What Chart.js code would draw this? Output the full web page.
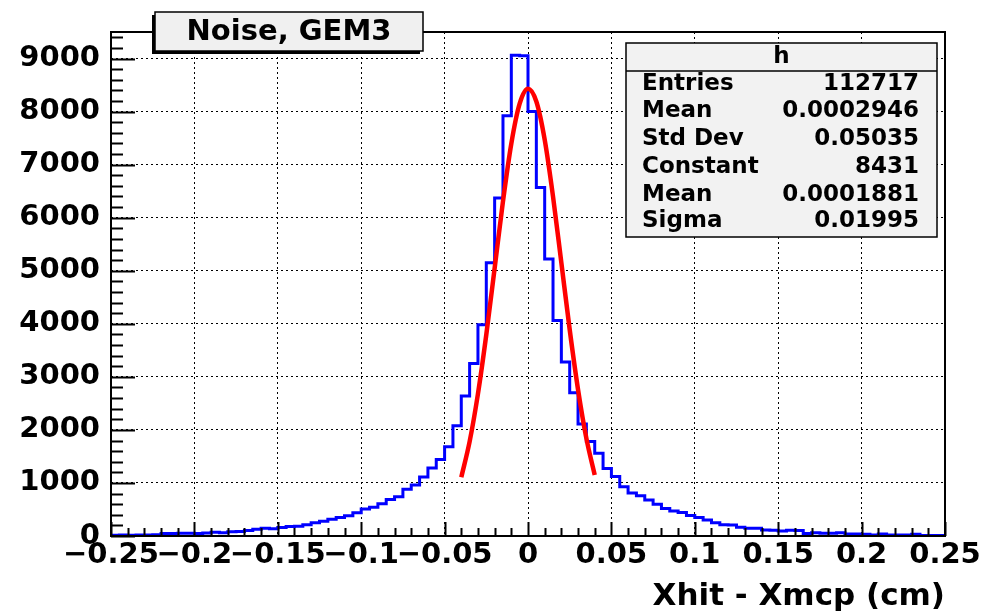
<!DOCTYPE html>
<html>
<head>
<meta charset="utf-8">
<script src="https://cdn.jsdelivr.net/npm/chart.js@4.4.1/dist/chart.umd.min.js"></script>
<style>
  html, body { margin: 0; padding: 0; background: #fff; }
  #wrap { width: 985px; height: 613px; }
</style>
</head>
<body>
<div id="wrap"><canvas id="histChart" width="985" height="613"></canvas></div>
<script>
// histogram "h": 100 bins between -0.25 and 0.25
const binLow = -0.25;
const binWidth = 0.005;
const counts = [
  15, 15, 20, 15, 20, 20, 25, 45, 45, 50,
  50, 45, 55, 70, 60, 80, 85, 105, 125, 145,
  135, 160, 180, 185, 210, 250, 280, 315, 350, 380,
  440, 510, 540, 610, 690, 740, 880, 960, 1110, 1280,
  1440, 1680, 2080, 2640, 3250, 3980, 5150, 6370, 7920, 9060,
  9050, 8000, 6570, 5220, 4060, 3280, 2700, 2110, 1780, 1560,
  1270, 1120, 930, 810, 760, 680, 600, 520, 470, 445,
  385, 350, 300, 250, 210, 205, 165, 145, 145, 115,
  110, 95, 110, 105, 45, 60, 50, 50, 60, 40,
  40, 35, 20, 40, 20, 20, 20, 35, 10, 10
];

// gaus fit curve as drawn (-0.04 .. 0.04)
const fitX = [-0.04, -0.035, -0.03, -0.025, -0.02, -0.015, -0.01, -0.005, 0,
              0.005, 0.01, 0.015, 0.02, 0.025, 0.03, 0.035, 0.04];
const fitY = [1107, 1778, 2681, 3795, 5049, 6308, 7398, 8150, 8431,
              8189, 7471, 6400, 5149, 3890, 2760, 1840, 1151];

const xTicks = [-0.25, -0.2, -0.15, -0.1, -0.05, 0, 0.05, 0.1, 0.15, 0.2, 0.25];
const yTicks = [0, 1000, 2000, 3000, 4000, 5000, 6000, 7000, 8000, 9000];

const titleText = 'Noise, GEM3';
const xTitle = 'Xhit - Xmcp (cm)';
const statsName = 'h';
const statsLabels = ['Entries', 'Mean', 'Std Dev', 'Constant', 'Mean', 'Sigma'];
const statsValues = ['112717', '0.0002946', '0.05035', '8431', '0.0001881', '0.01995'];

const FONT = "'DejaVu Sans', 'Liberation Sans', sans-serif";

const histPoints = counts.map((c, i) => ({ x: binLow + i * binWidth, y: c }));
histPoints.push({ x: binLow + counts.length * binWidth, y: counts[counts.length - 1] });
const fitPoints = fitX.map((x, i) => ({ x: x, y: fitY[i] }));

function fmtX(v) {
  const r = Math.round(v * 100) / 100;
  if (r < 0) return '\u2212' + String(-r);
  return String(r);
}

// ROOT-like frame, inner ticks, title pave and stats box
const rootDecor = {
  id: 'rootDecor',
  afterDraw(chart) {
    const ctx = chart.ctx;
    const a = chart.chartArea;
    const xs = chart.scales.x, ys = chart.scales.y;
    ctx.save();
    ctx.strokeStyle = '#000';
    ctx.lineWidth = 2;
    ctx.strokeRect(a.left, a.top, a.right - a.left, a.bottom - a.top);

    // y ticks (inside, pointing right)
    ctx.lineWidth = 2;
    ctx.beginPath();
    for (let v = 0; v <= ys.max; v += 200) {
      const y = Math.round(ys.getPixelForValue(v)) + 0.5;
      const len = (v % 1000 === 0) ? 24 : 12;
      ctx.moveTo(a.left, y);
      ctx.lineTo(a.left + len, y);
    }
    // x ticks (inside, pointing up)
    for (let k = 0; k <= 50; k++) {
      const v = -0.25 + k * 0.01;
      const x = Math.round(xs.getPixelForValue(v)) + 0.5;
      const len = (k % 5 === 0) ? 14 : 8;
      ctx.moveTo(x, a.bottom);
      ctx.lineTo(x, a.bottom - len);
    }
    ctx.stroke();

    // title pave with shadow
    const tx = 155, ty = 12, tw = 268, th = 39;
    ctx.fillStyle = '#000';
    ctx.fillRect(tx - 3, ty + 3, tw, th);
    ctx.fillStyle = '#f0f0f0';
    ctx.fillRect(tx, ty, tw, th);
    ctx.lineWidth = 1.5;
    ctx.strokeRect(tx, ty, tw, th);
    ctx.fillStyle = '#000';
    ctx.font = 'bold 29px ' + FONT;
    ctx.textAlign = 'center';
    ctx.textBaseline = 'middle';
    ctx.fillText(titleText, tx + tw / 2, ty + th / 2 + 1);

    // stats box
    const sx = 626, sy = 43, sw = 311, sh = 194;
    ctx.fillStyle = '#f2f2f2';
    ctx.fillRect(sx, sy, sw, sh);
    ctx.strokeStyle = '#000';
    ctx.lineWidth = 1.5;
    ctx.strokeRect(sx, sy, sw, sh);
    ctx.beginPath();
    ctx.moveTo(sx, sy + 28);
    ctx.lineTo(sx + sw, sy + 28);
    ctx.stroke();
    ctx.fillStyle = '#000';
    ctx.font = 'bold 23px ' + FONT;
    ctx.textAlign = 'center';
    ctx.fillText(statsName, sx + sw / 2, sy + 14);
    const rowY = [84, 111, 139, 167, 195, 221];
    statsLabels.forEach((lab, i) => {
      ctx.textAlign = 'left';
      ctx.fillText(lab, 642, rowY[i]);
      ctx.textAlign = 'right';
      ctx.fillText(statsValues[i], 919, rowY[i]);
    });
    ctx.restore();
  }
};

const ctx = document.getElementById('histChart').getContext('2d');
new Chart(ctx, {
  type: 'line',
  data: {
    datasets: [
      {
        label: 'gaus',
        data: fitPoints,
        borderColor: '#ff0000',
        borderWidth: 4.5,
        pointRadius: 0,
        cubicInterpolationMode: 'monotone',
        fill: false
      },
      {
        label: 'h',
        data: histPoints,
        borderColor: '#0000ff',
        borderWidth: 3,
        pointRadius: 0,
        stepped: 'after',
        fill: false
      }
    ]
  },
  options: {
    responsive: false,
    animation: false,
    events: [],
    layout: { padding: { left: 0, right: 40, top: 32, bottom: 0 } },
    plugins: {
      legend: { display: false },
      tooltip: { enabled: false }
    },
    scales: {
      x: {
        type: 'linear',
        min: -0.25,
        max: 0.25,
        afterBuildTicks: (s) => { s.ticks = xTicks.map(v => ({ value: v })); },
        afterFit: (s) => { s.height = 77; },
        ticks: {
          autoSkip: false,
          maxRotation: 0,
          minRotation: 0,
          padding: 2,
          color: '#000',
          font: { family: FONT, size: 29, weight: 'bold' },
          callback: (v) => fmtX(v)
        },
        grid: { color: '#000', lineWidth: 1, drawTicks: false },
        border: { display: false, dash: [2, 3] },
        title: {
          display: true,
          text: xTitle,
          align: 'end',
          color: '#000',
          font: { family: FONT, size: 31, weight: 'bold', lineHeight: 1 },
          padding: { top: 0, bottom: 1 }
        }
      },
      y: {
        min: 0,
        max: 9500,
        afterBuildTicks: (s) => { s.ticks = yTicks.map(v => ({ value: v })); },
        afterFit: (s) => { s.width = 111; },
        ticks: {
          padding: 11,
          color: '#000',
          font: { family: FONT, size: 29, weight: 'bold' },
          callback: (v) => String(v)
        },
        grid: { color: '#000', lineWidth: 1, drawTicks: false },
        border: { display: false, dash: [2, 3] }
      }
    }
  },
  plugins: [rootDecor]
});
</script>
</body>
</html>
